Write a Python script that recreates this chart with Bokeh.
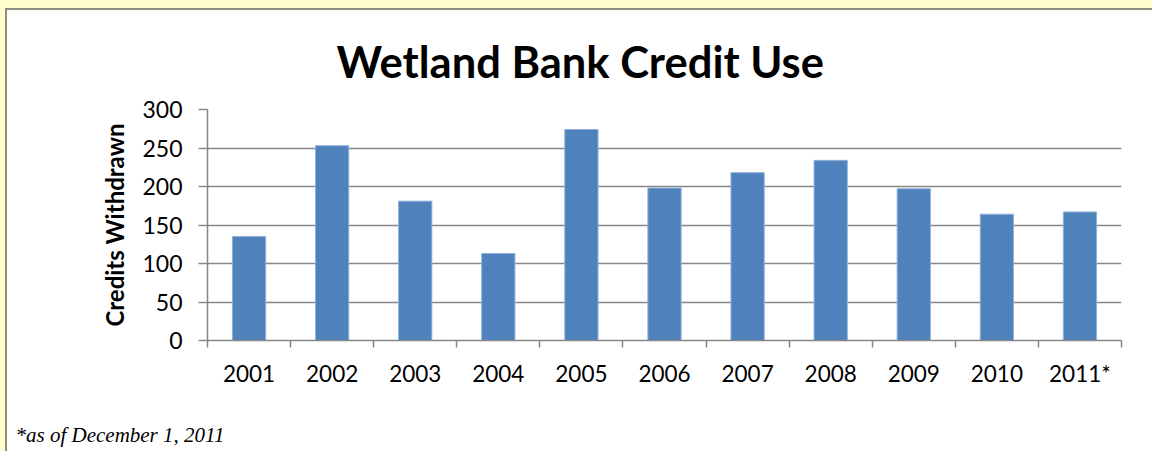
from bokeh.plotting import figure
from bokeh.models import (Range1d, FixedTicker, Title, ColumnDataSource,
                          GlobalInlineStyleSheet)
from bokeh.embed import file_html
from bokeh.resources import INLINE

# ---- data ----
years = ["2001", "2002", "2003", "2004", "2005", "2006",
         "2007", "2008", "2009", "2010", "2011*"]
credits = [135, 253, 181, 113, 274, 198, 218, 234, 197, 164, 167]
y_ticks = [0, 50, 100, 150, 200, 250, 300]
title_text = "Wetland Bank Credit Use"
y_label = "Credits Withdrawn"
footnote = "*as of December 1, 2011"

n = len(years)
centers = [i + 0.5 for i in range(n)]
src = ColumnDataSource(dict(x=centers, top=credits, year=years))

GRID = "#878787"
FONT = "Lato"

p = figure(width=1147, height=471, output_backend="svg", toolbar_location=None,
           x_range=Range1d(0, n), y_range=Range1d(0, y_ticks[-1]),
           min_border_left=200, min_border_right=33,
           min_border_top=99, min_border_bottom=141)

p.background_fill_color = "white"
p.border_fill_color = "white"
p.outline_line_color = None
p.stylesheets = [GlobalInlineStyleSheet(
    css="html,body{background-color:#FFFFCC;overflow:hidden;margin:0;padding:0;}")]
p.styles = {"margin-left": "5px", "margin-top": "8px",
            "border-left": "2px solid #8c8c8c", "border-top": "2px solid #8c8c8c"}

p.vbar(x="x", top="top", width=0.4, source=src,
       fill_color="#4F81BD", line_color="#8fb0da", line_width=1)

# grid
p.xgrid.grid_line_color = None
p.ygrid.grid_line_color = GRID
p.ygrid.grid_line_width = 1.5
p.ygrid.ticker = FixedTicker(ticks=y_ticks)

# y axis
ya = p.yaxis[0]
ya.ticker = FixedTicker(ticks=y_ticks)
ya.axis_line_color = GRID
ya.axis_line_width = 1.5
ya.major_tick_line_color = GRID
ya.major_tick_line_width = 1.5
ya.major_tick_out = 9
ya.major_tick_in = 0
ya.minor_tick_line_color = None
ya.major_label_text_font = FONT
ya.major_label_text_font_size = "23px"
ya.major_label_text_color = "black"
ya.major_label_standoff = 16
ya.axis_label = y_label
ya.axis_label_text_font = FONT
ya.axis_label_text_font_style = "bold"
ya.axis_label_text_font_size = "24px"
ya.axis_label_text_color = "black"
ya.axis_label_standoff = 10

# x axis: labels at centers, tick marks at category boundaries
xa = p.xaxis[0]
xa.ticker = FixedTicker(ticks=centers, minor_ticks=list(range(n + 1)))
xa.major_label_overrides = {float(c): y for c, y in zip(centers, years)}
xa.axis_line_color = GRID
xa.axis_line_width = 1.5
xa.major_tick_line_color = None
xa.major_tick_out = 0
xa.major_tick_in = 0
xa.minor_tick_line_color = GRID
xa.minor_tick_line_width = 1.5
xa.minor_tick_out = 7
xa.minor_tick_in = 0
xa.major_label_text_font = FONT
xa.major_label_text_font_size = "22.5px"
xa.major_label_text_color = "black"
xa.major_label_standoff = 12

# title
p.title.text = title_text
p.title.align = "left"
p.title.offset = 129
p.title.text_font = FONT
p.title.text_font_style = "bold"
p.title.text_font_size = "43.5px"
p.title.text_color = "black"
p.title.standoff = 45

# footnote
p.add_layout(Title(text=footnote, align="left", offset=-192, standoff=62,
                   text_font="Liberation Serif", text_font_style="italic",
                   text_font_size="21px", text_color="black"), "below")

open("out.html", "w").write(file_html(p, INLINE))
